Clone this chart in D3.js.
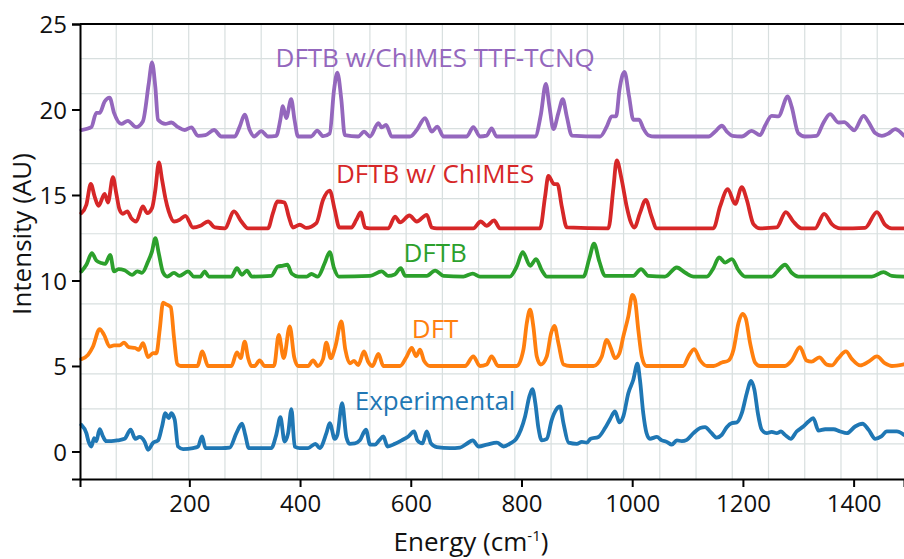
<!DOCTYPE html>
<html>
<head>
<meta charset="utf-8">
<script src="https://cdn.jsdelivr.net/npm/d3@7"></script>
<style>
  body { margin: 0; background: #fff; }
  svg text { font-family: "Open Sans", sans-serif; }
</style>
</head>
<body>
<div id="chart"></div>
<script>
// spectra, [energy (cm-1), intensity (AU)]
const experimental = [
  [5,1.56],[14,1.07],[18,0.58],[23,0.29],[28,0.78],[32,0.6],[38,1.31],[44,0.88],[50,0.6],[59,0.6],[71,0.65],
  [83,0.74],[94,1.27],[102.5,0.74],[110,0.85],[119.4,0.56],[125.4,0.1],[134.4,0.5],[143.5,0.65],[150.7,1.46],
  [156.7,2.24],[162.8,1.95],[167.5,2.24],[173.6,1.85],[179.6,0.29],[188.6,0.14],[206.7,0.2],[215.7,0.29],
  [223,0.88],[229,0.2],[258,0.2],[273,0.23],[285,1.07],[295.2,1.62],[301,0.97],[307.5,0.2],[327,0.2],[348,0.2],
  [357,0.97],[364.5,2.01],[372,0.58],[378.5,1.07],[384.4,2.48],[390.4,0.29],[399.5,0.2],[414.5,0.2],[427.7,0.45],
  [435.5,0.2],[447.6,1.07],[453.6,1.66],[462.7,0.74],[467.4,0.97],[476,2.83],[483.6,0.85],[489.6,0.45],
  [499,0.47],[508,0.65],[519,1.27],[526.5,0.4],[535.5,0.4],[543,0.65],[550.5,0.88],[558,0.29],[571.6,0.45],
  [583.6,0.65],[595.7,0.88],[606,1.17],[612,0.65],[621,0.47],[629,1.17],[636.5,0.47],[647,0.25],[671,0.2],
  [689,0.23],[701,0.45],[712,0.65],[722.6,0.29],[737.5,0.4],[755.6,0.52],[767.7,0.29],[779.7,0.47],[790.5,0.74],
  [798.9,1.27],[806.5,2.05],[814.3,3.22],[819.7,3.65],[825,2.83],[830.6,1.37],[836.7,0.65],[845.7,0.74],
  [854.7,1.85],[862.5,2.44],[869.7,2.63],[875.8,1.66],[885,0.52],[900,0.45],[909,0.56],[918,0.52],[925,0.74],
  [939,0.85],[951,1.37],[960,1.89],[969,2.34],[977,1.7],[984,2.05],[993,3.41],[1002,4.19],[1009.4,5.13],
  [1014,4.19],[1020,2.24],[1026,1.07],[1032,0.74],[1044.5,0.85],[1053.5,0.65],[1062.5,0.56],[1071.6,0.4],
  [1080.6,0.65],[1089.6,0.6],[1098.7,0.68],[1110.6,1.07],[1122.7,1.37],[1131.7,1.42],[1142.6,1.1],[1152.8,0.81],
  [1161.8,0.97],[1170.8,1.42],[1180,1.66],[1189,1.7],[1198,2.24],[1207,3.41],[1214.8,4.13],[1220.8,3.6],
  [1227,2.24],[1234,1.27],[1243,1.07],[1252,1.15],[1261,1.07],[1269,1.17],[1276,0.97],[1286.5,0.74],[1297,1.17],
  [1309,1.46],[1318.5,1.75],[1327,1.95],[1336.6,1.22],[1348.6,1.3],[1363.6,1.3],[1375.7,1.17],[1387.8,1.07],
  [1402.7,1.46],[1416,1.62],[1427,1.27],[1439,0.74],[1450,0.88],[1460,1.17],[1469,1.17],[1478,1.17],[1491,0.97]
];

const dft = [
  [5,5.4],[17,5.65],[26,6.14],[38,7.16],[46,6.82],[56,6.14],[64,6.2],[74,6.2],[82,6.37],[90.5,6.1],[102.5,6.05],
  [108.6,5.95],[116.4,6.34],[125.4,5.52],[134.4,5.75],[140.5,5.74],[146.5,7.12],[152.5,8.71],[158.5,8.6],
  [166.4,8.44],[172.4,6.63],[178.4,5.1],[184.4,5.0],[214.5,5.0],[223.5,5.85],[233.8,5.0],[276,5.0],[286,5.8],
  [292.8,5.46],[300,6.43],[306,5.5],[312,5.0],[318,5.0],[327,5.32],[336,5.0],[353,5.0],[361.5,6.82],[370.5,5.46],
  [381.4,7.31],[389.5,5.5],[396.5,5.0],[414.5,5.0],[423.5,5.32],[432,5.0],[441.5,5.4],[447.5,6.37],[455.5,5.46],
  [463.8,6.14],[474.6,7.6],[481.8,5.95],[490,5.15],[497.5,5.3],[505,5.05],[515.6,5.85],[523,5.25],[531,5.0],
  [541.5,5.71],[550.5,5.0],[580.7,5.0],[592.8,5.56],[601.8,6.05],[609.6,5.58],[616.8,5.95],[624,5.3],[635,5.0],
  [698,5.0],[713,5.56],[725,5.0],[737,5.08],[746,5.56],[758,5.0],[791.5,5.0],[803.5,5.95],[809.6,7.51],
  [815.6,8.29],[821.5,7.3],[827.6,5.56],[834.8,5.08],[845.7,5.56],[853.5,6.92],[859.5,7.35],[866.7,6.34],
  [876,5.08],[888,5.0],[930,5.0],[945,5.56],[954,6.53],[961.4,6.05],[969,5.46],[977,5.75],[984,6.73],[993,7.9],
  [1000.4,9.16],[1005,8.87],[1011,7.12],[1017.3,5.56],[1025,5.0],[1092.5,5.0],[1101.6,5.56],[1112,5.99],
  [1123,5.32],[1135,5.0],[1147,5.0],[1162,5.2],[1174,5.32],[1183,5.95],[1192,7.51],[1199,8.05],[1205,7.8],
  [1213,6.34],[1222,5.2],[1231,5.0],[1276,5.0],[1288,5.32],[1303,6.1],[1315,5.32],[1324,5.25],[1338,5.5],
  [1351.5,5.08],[1360.6,5.03],[1372.5,5.46],[1386,5.85],[1397,5.4],[1412,5.03],[1427,5.25],[1442,5.56],
  [1457,5.15],[1469,5.0],[1491,5.1]
];

const dftb = [
  [5,10.53],[14,10.92],[24,11.6],[32,11.17],[41,11.02],[48,10.97],[57,11.5],[64,10.53],[72,10.67],[83,10.6],
  [96.5,10.33],[106,10.53],[114.5,10.45],[125.4,11.11],[132.6,11.7],[138.6,12.48],[144.7,11.6],[152.5,10.47],
  [160,10.23],[172.4,10.45],[182,10.27],[197.7,10.53],[208,10.23],[220,10.23],[227.8,10.53],[235,10.23],
  [276,10.23],[286,10.72],[295,10.33],[304,10.58],[313,10.23],[348,10.27],[360,10.82],[368,10.86],[377,10.92],
  [385,10.4],[397,10.23],[412,10.23],[420.5,10.38],[432,10.23],[444.6,11.02],[453.6,11.66],[461.4,10.72],
  [470,10.23],[526.5,10.27],[547.6,10.53],[559,10.27],[571,10.35],[582,10.72],[590,10.27],[629,10.27],
  [644,10.58],[659,10.27],[695,10.23],[712,10.4],[725,10.23],[779,10.23],[791.5,10.82],[802.3,11.66],
  [815.6,10.86],[826.4,11.25],[836.7,10.6],[846,10.23],[912,10.23],[922.7,11.3],[931,12.15],[940.7,11.11],
  [951,10.27],[1002,10.27],[1016,10.67],[1029,10.27],[1059,10.23],[1080.6,10.76],[1096,10.45],[1111,10.23],
  [1135,10.23],[1146.7,10.72],[1157,11.35],[1168,11.05],[1180,11.25],[1192,10.6],[1204,10.23],[1252,10.23],
  [1264,10.6],[1276,10.92],[1288,10.45],[1300,10.23],[1433,10.23],[1454,10.49],[1469,10.27],[1491,10.23]
];

const dftbChimes = [
  [5,13.94],[14,14.43],[22,15.65],[29,14.9],[36,14.37],[47,15.07],[53,14.56],[62,16.05],[68,15.1],[74,14.13],
  [80,13.9],[88,14.04],[95,13.65],[104,13.45],[116,14.33],[124,13.94],[132.6,14.23],[138.6,15.3],[145,16.9],
  [150.7,15.9],[156.7,14.82],[162.8,14.04],[172.4,13.45],[182.6,13.55],[192.8,13.78],[206.7,13.1],[220,13.2],
  [233.8,13.45],[246,13.1],[264,13.05],[280.8,14.04],[294,13.45],[306,13.05],[342,13.05],[351,13.94],
  [359,14.62],[372,14.56],[379.6,13.74],[387,13.1],[399.5,13.26],[411,13.08],[429.5,13.36],[441.6,14.72],
  [453.6,15.26],[462.7,14.13],[471,13.1],[492.7,13.1],[501.7,13.55],[509.6,13.98],[517.5,13.1],[526,13.05],
  [559.5,13.05],[571.6,13.74],[580.7,13.4],[597.5,13.8],[610.8,13.45],[629,13.84],[638,13.1],[647,13.05],
  [713,13.05],[726.5,13.45],[737,13.2],[750.5,13.51],[761,13.05],[833.6,13.05],[842.6,14.9],[848.6,16.12],
  [858.9,15.64],[865,15.64],[872.8,14.33],[882,13.1],[957,13.05],[966,15.4],[972,17.02],[981,15.9],[990,14.33],
  [996,13.55],[1004,13.1],[1014,13.94],[1024.6,14.72],[1034,13.84],[1044.5,13.05],[1146.7,13.05],
  [1158.8,14.33],[1172.7,15.34],[1186,14.48],[1198,15.46],[1207,14.72],[1219,13.3],[1231,13.05],[1261,13.1],
  [1277.5,14.0],[1291,13.45],[1306,13.05],[1330.5,13.05],[1346.7,13.9],[1360.6,13.3],[1376,13.05],
  [1420.8,13.08],[1442,14.0],[1457,13.25],[1469,13.05],[1491,13.05]
];

const dftbChimesTtf = [
  [5,18.8],[23,18.97],[32,19.8],[38,19.8],[47,20.47],[56,20.7],[64,19.8],[77,19.16],[89,19.34],[104,18.97],
  [116,19.3],[126.6,21.5],[132.6,22.75],[138.6,21.3],[143.5,19.4],[156.7,19.16],[167.5,19.24],[179.6,18.97],
  [191.7,18.8],[203.6,18.95],[215.7,18.46],[229,18.5],[244.6,18.8],[257.8,18.42],[282,18.42],[291,19.0],
  [300,19.7],[309,18.8],[317,18.42],[330,18.74],[342,18.42],[357,18.46],[364.4,19.4],[369,20.2],[375,19.5],
  [384,20.6],[390,19.4],[396.4,18.42],[420,18.42],[431,18.77],[441.6,18.44],[453.6,18.6],[461.4,21.15],
  [467.4,22.16],[474.6,20.57],[480.8,18.5],[505,18.42],[515.6,18.7],[526.5,18.42],[541.5,19.2],[547.6,18.95],
  [555.4,19.1],[565.6,18.42],[598.7,18.42],[610.8,18.8],[625.8,19.5],[638,18.71],[648,19.0],[659,18.42],
  [701,18.42],[713,18.97],[725,18.42],[737,18.47],[746,18.9],[755,18.42],[824.6,18.42],[835,19.7],[844,21.5],
  [850.4,20.2],[857.7,18.85],[866.7,19.8],[874.6,20.6],[881.8,19.6],[891,18.47],[942,18.42],[954,19.0],
  [963,19.6],[971,19.6],[977,21.15],[986,22.2],[994.4,20.76],[1002,19.4],[1012.5,19.4],[1020,18.9],
  [1029,18.5],[1041,18.42],[1138,18.42],[1150,18.71],[1162,19.05],[1171,18.71],[1181,18.46],[1198,18.42],
  [1216,18.75],[1231,18.5],[1240,19.05],[1252,19.63],[1264,19.6],[1281,20.76],[1288,20.17],[1300,18.62],
  [1312,18.42],[1333,18.46],[1345,19.2],[1357.5,19.73],[1372.5,19.24],[1383,19.26],[1393.7,18.97],
  [1401,18.78],[1418,19.63],[1427,19.26],[1439,18.62],[1451,18.46],[1463,18.6],[1475,18.85],[1491,18.46]
];

const seriesNames = ["Experimental", "DFT", "DFTB", "DFTB w/ ChIMES", "DFTB w/ChIMES TTF-TCNQ"];
const seriesData = [experimental, dft, dftb, dftbChimes, dftbChimesTtf];
const seriesColors = ["#1f77b4", "#ff7f0e", "#2ca02c", "#d62728", "#9467bd"];
// where each label sits, in data units (energy, intensity)
const labelPos = [[644, 2.44], [644, 6.63], [644, 11.1], [644, 15.7], [644, 22.5]];

const xTicks = [200, 400, 600, 800, 1000, 1200, 1400];
const yTicks = [0, 5, 10, 15, 20, 25];

const W = 904, H = 559;
const margin = {left: 80, right: 0, top: 24, bottom: 80};

let svg = d3.select('#chart').append('svg')
            .attr('width', W)
            .attr('height', H);

let x = d3.scaleLinear()
          .domain([2.5, 1491])
          .range([margin.left, W - margin.right]);

let y = d3.scaleLinear()
          .domain([-1.61, 25])
          .range([H - margin.bottom, margin.top]);

// background grid (it isn't aligned with the ticks in the original)
let grid = svg.append('g').attr('class', 'grid');
let xGrid = d3.range(2.5 + 65.46, 1491, 65.46);
let yGrid = d3.range(-1.61 + 2.049, 25, 2.049);

grid.selectAll('line.vx').data(xGrid)
    .join('line')
    .attr('class', 'vx')
    .attr('x1', d => x(d)).attr('x2', d => x(d))
    .attr('y1', y(25)).attr('y2', y(-1.61))
    .attr('stroke', '#d8dfdf')
    .attr('stroke-width', 1.2);

grid.selectAll('line.hy').data(yGrid)
    .join('line')
    .attr('class', 'hy')
    .attr('y1', d => y(d)).attr('y2', d => y(d))
    .attr('x1', x(2.5)).attr('x2', x(1491))
    .attr('stroke', '#d8dfdf')
    .attr('stroke-width', 1.2);

// spectra
let line = d3.line()
             .x(d => x(d[0]))
             .y(d => y(d[1]))
             .curve(d3.curveMonotoneX);

let traces = svg.append('g');
traces.selectAll('path.trace').data(seriesData)
      .join('path')
      .attr('class', 'trace')
      .attr('d', d => line(d))
      .attr('fill', 'none')
      .attr('stroke', (d, i) => seriesColors[i])
      .attr('stroke-width', 3.8)
      .attr('stroke-linejoin', 'round')
      .attr('stroke-linecap', 'round');

// labels
svg.append('g').selectAll('text.lab').data(seriesNames)
   .join('text')
   .attr('class', 'lab')
   .attr('x', (d, i) => x(labelPos[i][0]))
   .attr('y', (d, i) => y(labelPos[i][1]))
   .attr('text-anchor', 'middle')
   .attr('font-size', 26)
   .attr('fill', (d, i) => seriesColors[i])
   .text(d => d);

// axes
let xAxis = svg.append('g')
               .attr('transform', `translate(0,${y(-1.61)})`)
               .call(d3.axisBottom(x).tickValues(xTicks).tickSize(8).tickPadding(8).tickFormat(d3.format('d')));
let yAxis = svg.append('g')
               .attr('transform', `translate(${x(2.5)},0)`)
               .call(d3.axisLeft(y).tickValues(yTicks).tickSize(8).tickPadding(5).tickFormat(d3.format('d')));

[xAxis, yAxis].forEach(a => {
  a.select('.domain').attr('stroke', '#000').attr('stroke-width', 2);
  a.selectAll('.tick line').attr('stroke', '#000').attr('stroke-width', 2);
  a.selectAll('.tick text').attr('font-size', 24).attr('fill', '#111')
   .style('font-family', '"Open Sans", sans-serif');
});
yAxis.selectAll('.tick text').attr('dy', '0.36em');

// top frame line
svg.append('line')
   .attr('x1', x(2.5)).attr('x2', x(1491))
   .attr('y1', y(25)).attr('y2', y(25))
   .attr('stroke', '#000').attr('stroke-width', 2);

// axis titles
let xt = svg.append('text')
            .attr('x', 471)
            .attr('y', 551)
            .attr('text-anchor', 'middle')
            .attr('font-size', 26)
            .attr('fill', '#111');
xt.append('tspan').text('Energy (cm');
xt.append('tspan').attr('font-size', 15).attr('dy', -10).text('-1');
xt.append('tspan').attr('dy', 10).text(')');

svg.append('text')
   .attr('transform', 'translate(31,234) rotate(-90)')
   .attr('text-anchor', 'middle')
   .attr('font-size', 26)
   .attr('fill', '#111')
   .text('Intensity (AU)');
</script>
</body>
</html>
